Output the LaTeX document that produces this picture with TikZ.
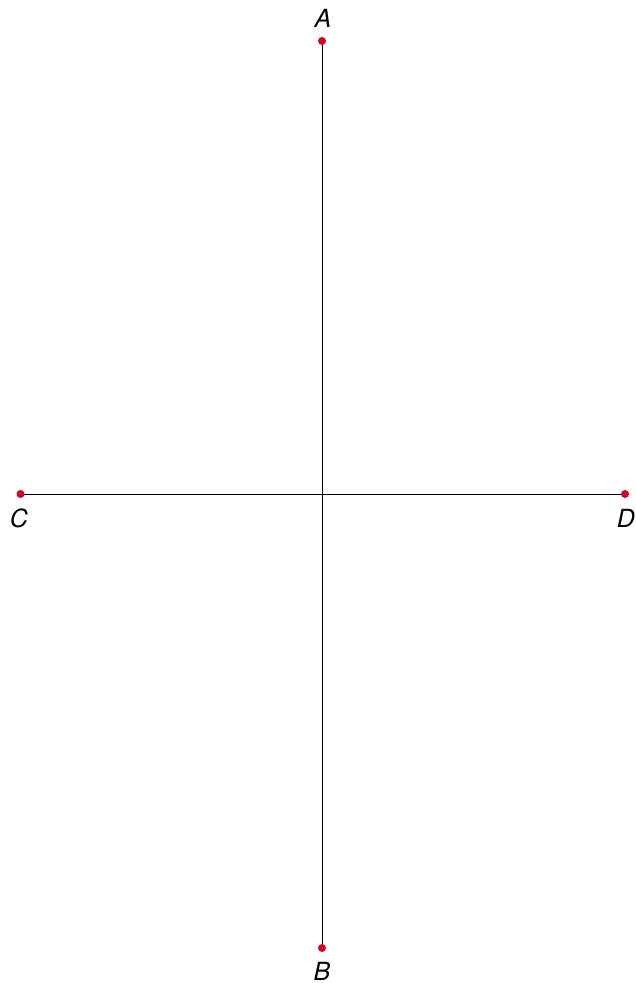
\documentclass[tikz,border=0pt]{standalone}
\usepackage{fontspec}
\setmainfont{TeX Gyre Heros}
\begin{document}
\begin{tikzpicture}[x=1pt,y=-1pt,
  pt/.style={circle,fill={rgb,255:red,220;green,0;blue,30},inner sep=0pt,minimum size=8pt},
  lbl/.style={font=\fontsize{25}{28}\selectfont\itshape,inner sep=0pt}]
\useasboundingbox (0,0) rectangle (635,983);
\coordinate (A) at (322,41);
\coordinate (B) at (322,948);
\coordinate (C) at (20.5,494);
\coordinate (D) at (625,494);
\draw[line width=0.9pt] (A) -- (B);
\draw[line width=0.9pt] (C) -- (D);
\node[pt] (Ad) at (A) {};
\node[pt] (Bd) at (B) {};
\node[pt] (Cd) at (C) {};
\node[pt] (Dd) at (D) {};
\node[lbl] (Al) at (323,18) {A};
\node[lbl] (Bl) at (322,971) {B};
\node[lbl] (Cl) at (19,518) {C};
\node[lbl] (Dl) at (626,518) {D};
\end{tikzpicture}
\end{document}
